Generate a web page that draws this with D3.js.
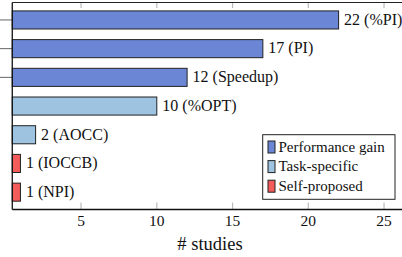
<!DOCTYPE html>
<html lang="en">
<head>
<meta charset="utf-8">
<title>Metrics</title>
<script src="https://d3js.org/d3.v7.min.js"></script>
<style>
  body { margin: 0; background: white; }
</style>
</head>
<body>
<div id="chart"></div>
<script>
// data
var labels = ["22 (%PI)", "17 (PI)", "12 (Speedup)", "10 (%OPT)", "2 (AOCC)", "1 (IOCCB)", "1 (NPI)"]
var counts = [22, 17, 12, 10, 2, 1, 1]
var groups = ["perf", "perf", "perf", "task", "task", "self", "self"]
var xTicks = [5, 10, 15, 20, 25]
var legendNames = ["Performance gain", "Task-specific", "Self-proposed"]

var width = 402
var height = 257
var serif = "'Liberation Serif', 'DejaVu Serif', 'Times New Roman', serif"

var color = d3.scaleOrdinal()
  .domain(["perf", "task", "self"])
  .range(["#6b86d4", "#9dc3e0", "#f45b5b"])

var svg = d3.select("#chart")
  .append("svg")
    .attr("width", width)
    .attr("height", height)
    .attr("font-family", serif)

// x scale: axis starts a little right of zero
var x = d3.scaleLinear()
  .domain([0, 25])
  .range([5.3, 5.3 + 25 * 15.15])
var xmin = 0.46

var y = d3.scaleBand()
  .domain(labels)
  .range([5.6, 206.5])
  .paddingInner(0.37)
  .paddingOuter(0.185)

var plotTop = 2.5, plotBottom = 209.5
var left = x(xmin)

// ticks on top and bottom
xTicks.forEach(function(t) {
  svg.append("line")
    .attr("x1", x(t)).attr("x2", x(t))
    .attr("y1", plotTop).attr("y2", plotTop + 5.5)
    .attr("stroke", "#bbb").attr("stroke-width", 1.2)
  svg.append("line")
    .attr("x1", x(t)).attr("x2", x(t))
    .attr("y1", plotBottom - 7).attr("y2", plotBottom)
    .attr("stroke", "#bbb").attr("stroke-width", 1.2)
})

// left ticks (only the first three show in the figure)
labels.slice(0, 3).forEach(function(l) {
  var cy = y(l) + y.bandwidth() / 2
  svg.append("line")
    .attr("x1", 0).attr("x2", left)
    .attr("y1", cy).attr("y2", cy)
    .attr("stroke", "#666").attr("stroke-width", 1)
})

// bars + value labels
labels.forEach(function(l, i) {
  svg.append("rect")
    .attr("x", left)
    .attr("y", y(l))
    .attr("width", x(counts[i]) - left)
    .attr("height", y.bandwidth())
    .attr("fill", color(groups[i]))
    .attr("stroke", "#222")
    .attr("stroke-width", 1)
  svg.append("text")
    .attr("x", x(counts[i]) + 5.5)
    .attr("y", y(l) + y.bandwidth() / 2)
    .attr("dy", "0.3em")
    .attr("fill", "#111")
    .style("font-size", "16px")
    .text(l)
})

// axis lines
svg.append("line")
  .attr("x1", left).attr("x2", width)
  .attr("y1", plotTop).attr("y2", plotTop)
  .attr("stroke", "#222").attr("stroke-width", 1)
svg.append("line")
  .attr("x1", left).attr("x2", left)
  .attr("y1", plotTop).attr("y2", plotBottom)
  .attr("stroke", "#111").attr("stroke-width", 1.3)
svg.append("line")
  .attr("x1", left).attr("x2", width)
  .attr("y1", plotBottom).attr("y2", plotBottom)
  .attr("stroke", "#111").attr("stroke-width", 1.3)

// tick labels
xTicks.forEach(function(t) {
  svg.append("text")
    .attr("x", x(t))
    .attr("y", 225.5)
    .attr("text-anchor", "middle")
    .attr("fill", "#111")
    .style("font-size", "15.5px")
    .text(t)
})

svg.append("text")
  .attr("x", 210)
  .attr("y", 249.5)
  .attr("text-anchor", "middle")
  .attr("fill", "#111")
  .style("font-size", "18.5px")
  .text("# studies")

// legend
var lg = svg.append("g")
lg.append("rect")
  .attr("x", 262.7).attr("y", 134.7)
  .attr("width", 132.3).attr("height", 64.6)
  .attr("fill", "white")
  .attr("stroke", "#222").attr("stroke-width", 1)
legendNames.forEach(function(n, i) {
  var cy = 147 + i * 19.6
  lg.append("rect")
    .attr("x", 268).attr("y", cy - 6)
    .attr("width", 7).attr("height", 12)
    .attr("fill", color.range()[i])
    .attr("stroke", "#222").attr("stroke-width", 1)
  lg.append("text")
    .attr("x", 278.5).attr("y", cy)
    .attr("dy", "0.3em")
    .attr("fill", "#111")
    .style("font-size", "15px")
    .text(n)
})
</script>
</body>
</html>
